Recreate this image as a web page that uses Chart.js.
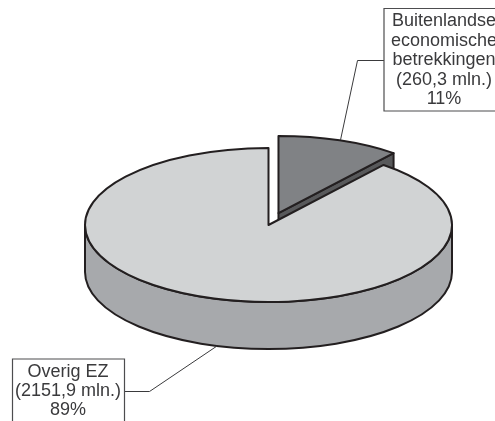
<!DOCTYPE html>
<html>
<head>
<meta charset="utf-8">
<title>Overig EZ</title>
<script src="https://cdn.jsdelivr.net/npm/chart.js@4"></script>
<style>
  html, body { margin: 0; padding: 0; background: #fff; overflow: hidden; }
  canvas { display: block; }
</style>
</head>
<body>
<canvas id="grafica" width="495" height="421"></canvas>
<script>
const categorias = ["Buitenlandse economische betrekkingen", "Overig EZ"];
const valores = [260.3, 2151.9];
const etiquetas = [
  ["Buitenlandse", "economische", "betrekkingen", "(260,3 mln.)", "11%"],
  ["Overig EZ", "(2151,9 mln.)", "89%"]
];
const coloresCara = ["#808285", "#d1d3d4"];
const coloresLado = ["#58595b", "#a7a9ac"];

const aplastado = 0.42;   // ellipse height / width
const grosor = 47;        // depth of the pie
const borde = "#231f20";

function centro(arc) {
  const medio = (arc.startAngle + arc.endAngle) / 2;
  const desp = arc.options.offset / 4;
  return {
    x: arc.x + Math.cos(medio) * desp,
    y: arc.y + Math.sin(medio) * desp * aplastado
  };
}

function cara(ctx, arc) {
  const c = centro(arc);
  const r = arc.outerRadius;
  ctx.beginPath();
  ctx.moveTo(c.x, c.y);
  ctx.ellipse(c.x, c.y, r, r * aplastado, 0, arc.startAngle, arc.endAngle);
  ctx.closePath();
}

// cut side running from the centre of the slice to the end of its arc
function ladoCorte(ctx, arc) {
  const c = centro(arc);
  const r = arc.outerRadius;
  const px = c.x + Math.cos(arc.endAngle) * r;
  const py = c.y + Math.sin(arc.endAngle) * r * aplastado;
  ctx.beginPath();
  ctx.moveTo(c.x, c.y);
  ctx.lineTo(px, py);
  ctx.lineTo(px, py + grosor);
  ctx.lineTo(c.x, c.y + grosor);
  ctx.closePath();
}

// round side, only the front half of the ellipse can be seen
function ladoFrente(ctx, arc) {
  const c = centro(arc);
  const r = arc.outerRadius;
  ctx.beginPath();
  ctx.ellipse(c.x, c.y, r, r * aplastado, 0, 0, Math.PI);
  ctx.lineTo(c.x - r, c.y + grosor);
  ctx.ellipse(c.x, c.y + grosor, r, r * aplastado, 0, Math.PI, 0, true);
  ctx.closePath();
}

const tarta3d = {
  id: "tarta3d",
  beforeDatasetsDraw(chart) {
    const ctx = chart.ctx;
    const arcos = chart.getDatasetMeta(0).data;
    ctx.save();
    ctx.lineWidth = 2;
    ctx.lineJoin = "round";
    ctx.strokeStyle = borde;

    ctx.fillStyle = coloresLado[0];
    ladoCorte(ctx, arcos[0]);
    ctx.fill();
    ctx.stroke();
    ctx.fillStyle = coloresCara[0];
    cara(ctx, arcos[0]);
    ctx.fill();
    ctx.stroke();

    ctx.fillStyle = coloresLado[1];
    ladoFrente(ctx, arcos[1]);
    ctx.fill();
    ctx.stroke();
    ctx.fillStyle = coloresCara[1];
    cara(ctx, arcos[1]);
    ctx.fill();
    ctx.stroke();

    ctx.restore();
    return false;
  }
};

function caja(ctx, x, y, w, h, lineas, cx, cy0, paso) {
  ctx.lineWidth = 1.2;
  ctx.strokeStyle = "#4d4d4f";
  ctx.fillStyle = "#fff";
  ctx.beginPath();
  ctx.rect(x, y, w, h);
  ctx.fill();
  ctx.stroke();
  ctx.fillStyle = "#3a3a3c";
  lineas.forEach((t, i) => ctx.fillText(t, cx, cy0 + i * paso));
}

function guia(ctx, puntos) {
  ctx.lineWidth = 1;
  ctx.strokeStyle = "#3a3a3c";
  ctx.beginPath();
  puntos.forEach((p, i) => i ? ctx.lineTo(p[0], p[1]) : ctx.moveTo(p[0], p[1]));
  ctx.stroke();
}

const rotulos = {
  id: "rotulos",
  afterDraw(chart) {
    const ctx = chart.ctx;
    ctx.save();
    ctx.font = '18px "Liberation Sans", sans-serif';
    ctx.textAlign = "center";
    ctx.textBaseline = "middle";
    guia(ctx, [[384, 60.5], [357.5, 60.5], [340.5, 140]]);
    guia(ctx, [[124, 391.5], [149.5, 391.5], [217, 346]]);
    caja(ctx, 384, 8.5, 130, 102.5, etiquetas[0], 444, 21, 19.6);
    caja(ctx, 12.5, 359, 112, 70, etiquetas[1], 68, 372, 19);
    ctx.restore();
  }
};

new Chart(document.getElementById("grafica").getContext("2d"), {
  type: "pie",
  data: {
    labels: categorias,
    datasets: [{
      data: valores,
      backgroundColor: coloresCara,
      borderWidth: 0,
      offset: [120, 0]
    }]
  },
  options: {
    responsive: false,
    animation: false,
    radius: 183.5,
    layout: { padding: { left: 42, top: 29 } },
    plugins: {
      legend: { display: false },
      tooltip: { enabled: false }
    }
  },
  plugins: [tarta3d, rotulos]
});
</script>
</body>
</html>
